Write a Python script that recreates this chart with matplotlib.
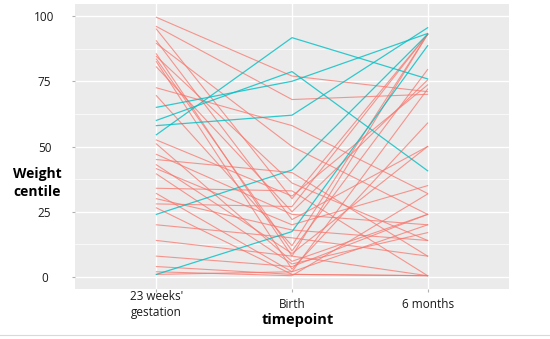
import matplotlib
matplotlib.use("Agg")
import matplotlib.pyplot as plt
from matplotlib.lines import Line2D
from matplotlib.ticker import MultipleLocator

plt.rcParams["font.family"] = ["Open Sans", "DejaVu Sans"]

SALMON = "#F8766D"
TEAL = "#00BFC4"

timepoints = ["23 weeks'\ngestation", "Birth", "6 months"]

# weight centile per infant at 23 weeks, birth, 6 months
salmon_w23 = [99.5, 96, 95, 90.5, 89.5, 85.5, 84.5, 83.5, 82.5, 80.5,
              72.5, 69.5, 52.5, 51, 47, 45, 43, 41.5, 39.5, 34,
              32, 30, 28, 26.5, 20, 14, 8, 4, 2, 1]
salmon_birth = [77, 68, 30, 22, 50, 8, 36, 10, 3, 25,
                58, 12, 31, 6, 24, 40, 9, 20, 5, 33,
                2, 18, 27, 1, 15, 8, 4, 1, 0.5, 2]
salmon_6m = [71, 70, 93, 50, 24, 93, 14, 79.5, 59, 75.5,
             32, 93, 73.6, 24, 20, 8, 50, 35, 17, 0.5,
             72, 14, 93, 0.5, 8, 0.5, 24, 0.5, 31.8, 20]

teal_w23 = [65, 60, 58, 54.5, 24, 1]
teal_birth = [75, 78.7, 62, 91.7, 41, 17.4]
teal_6m = [93.3, 40.7, 95.5, 75.9, 93, 88.6]

fig = plt.figure(figsize=(5.5, 3.39), dpi=100)
ax = fig.add_axes([75 / 550, 1 - 289 / 339, 434 / 550, 285 / 339])
ax.set_facecolor("#EBEBEB")
for s in ax.spines.values():
    s.set_visible(False)

x = [1, 2, 3]
for a, b, c in zip(salmon_w23, salmon_birth, salmon_6m):
    ax.plot(x, [a, b, c], color=SALMON, lw=0.8, alpha=0.75, zorder=3)
for a, b, c in zip(teal_w23, teal_birth, teal_6m):
    ax.plot(x, [a, b, c], color=TEAL, lw=0.9, alpha=0.8, zorder=4)

ax.set_xlim(0.4, 3.6)
ax.set_ylim(-4.6, 104.6)
ax.set_xticks(x)
ax.set_xticklabels(timepoints)
ax.set_yticks([0, 25, 50, 75, 100])
ax.yaxis.set_minor_locator(MultipleLocator(12.5))
ax.grid(True, which="major", color="white", lw=1.0, zorder=1)
ax.grid(True, which="minor", axis="y", color="white", lw=0.5, zorder=1)
ax.set_axisbelow(True)
ax.tick_params(axis="both", which="major", length=2, color="#b0b0b0",
               labelsize=8.5, labelcolor="#1a1a1a")
ax.tick_params(axis="y", which="minor", length=0)
ax.tick_params(axis="y", pad=20)
ax.tick_params(axis="x", pad=9)
for lab in ax.get_yticklabels():
    lab.set_horizontalalignment("center")
for lab in ax.get_xticklabels():
    lab.set_verticalalignment("center")
    lab.set_linespacing(1.25)

fig.text(37 / 550, 1 - 183 / 339, "Weight\ncentile", fontsize=10,
         fontweight="bold", ha="center", va="center", linespacing=1.3)
fig.text(298 / 550, 1 - 320 / 339, "timepoint", fontsize=10.5,
         fontweight="bold", ha="center", va="center")

fig.add_artist(Line2D([0, 1], [1 - 335 / 339] * 2, color="#d9d9d9",
                      lw=0.8, transform=fig.transFigure))

fig.savefig("out.png", dpi=100)
